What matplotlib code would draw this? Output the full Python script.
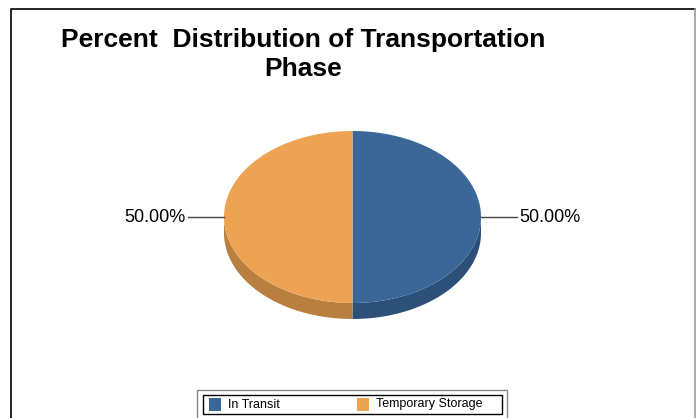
"""Percent distribution of transportation phase: 3D-look pie, Excel style."""

import matplotlib

matplotlib.use("Agg")
import matplotlib.pyplot as plt  # noqa: E402
import numpy as np  # noqa: E402
from matplotlib.patches import Polygon, Rectangle  # noqa: E402

categories = ["In Transit", "Temporary Storage"]
values = [50.0, 50.0]
top_colors = ["#3A6698", "#EEA353"]
side_colors = ["#2D5079", "#B97F3F"]

title_lines = ["Percent  Distribution of Transportation", "Phase"]

plt.rcParams["font.family"] = ["Liberation Sans", "DejaVu Sans"]

fig = plt.figure(figsize=(6.96, 4.18), dpi=100)
ax = fig.add_axes([0, 0, 1, 1])
ax.set_xlim(0, 696)
ax.set_ylim(418, 0)
ax.axis("off")

# chart frame
ax.plot([11, 11, 695], [418, 9, 9], color="black", lw=1.2)
ax.plot([695, 695], [9, 418], color="#999999", lw=1.2)

for (tx, ty), line in zip([(303, 47), (303, 76)], title_lines):
    ax.text(tx, ty, line, ha="center", va="baseline", fontsize=19,
            fontweight="bold")

# pie geometry (pixels)
cx, cy, rx, ry, depth = 352.5, 217.0, 128.5, 86.0, 16.0
fracs = np.array(values) / sum(values)
starts = 90 - 360 * np.concatenate([[0], np.cumsum(fracs)[:-1]])
ends = starts - 360 * fracs


def edge(phi):
    return cx + rx * np.cos(phi), cy - ry * np.sin(phi)


# sides first (front half only)
for s, e, col in zip(starts, ends, side_colors):
    phi = np.radians(np.linspace(s, e, 200))
    phi = phi[np.sin(phi) <= 1e-9]
    if len(phi) < 2:
        continue
    x, y = edge(phi)
    pts = np.column_stack([np.r_[x, x[::-1]], np.r_[y, y[::-1] + depth]])
    ax.add_patch(Polygon(pts, closed=True, facecolor=col, edgecolor="none"))

# top faces
for s, e, col in zip(starts, ends, top_colors):
    phi = np.radians(np.linspace(s, e, 200))
    x, y = edge(phi)
    pts = np.column_stack([np.r_[cx, x], np.r_[cy, y]])
    ax.add_patch(Polygon(pts, closed=True, facecolor=col, edgecolor="none"))

# labels with leader lines
for s, e, v in zip(starts, ends, values):
    mid = np.radians((s + e) / 2)
    x0, y0 = edge(mid)
    side = 1 if np.cos(mid) >= 0 else -1
    x1 = x0 + side * 36
    ax.plot([x0, x1], [y0, y0], color="#444444", lw=1)
    ax.text(x1 + side * 2, y0, f"{v:.2f}%", fontsize=13,
            ha="left" if side > 0 else "right", va="center")

# legend
ax.add_patch(Rectangle((197, 390), 310, 30, fill=False, edgecolor="#888888", lw=1))
ax.add_patch(Rectangle((203, 395), 299, 19, fill=False, edgecolor="black", lw=1))
for i, (name, col) in enumerate(zip(categories, top_colors)):
    lx = 209 + i * 148
    ax.add_patch(Rectangle((lx, 398), 12, 13, facecolor=col, edgecolor="none"))
    ax.text(lx + 19, 404.5, name, fontsize=9, ha="left", va="center")

fig.savefig("out.png", dpi=100)
